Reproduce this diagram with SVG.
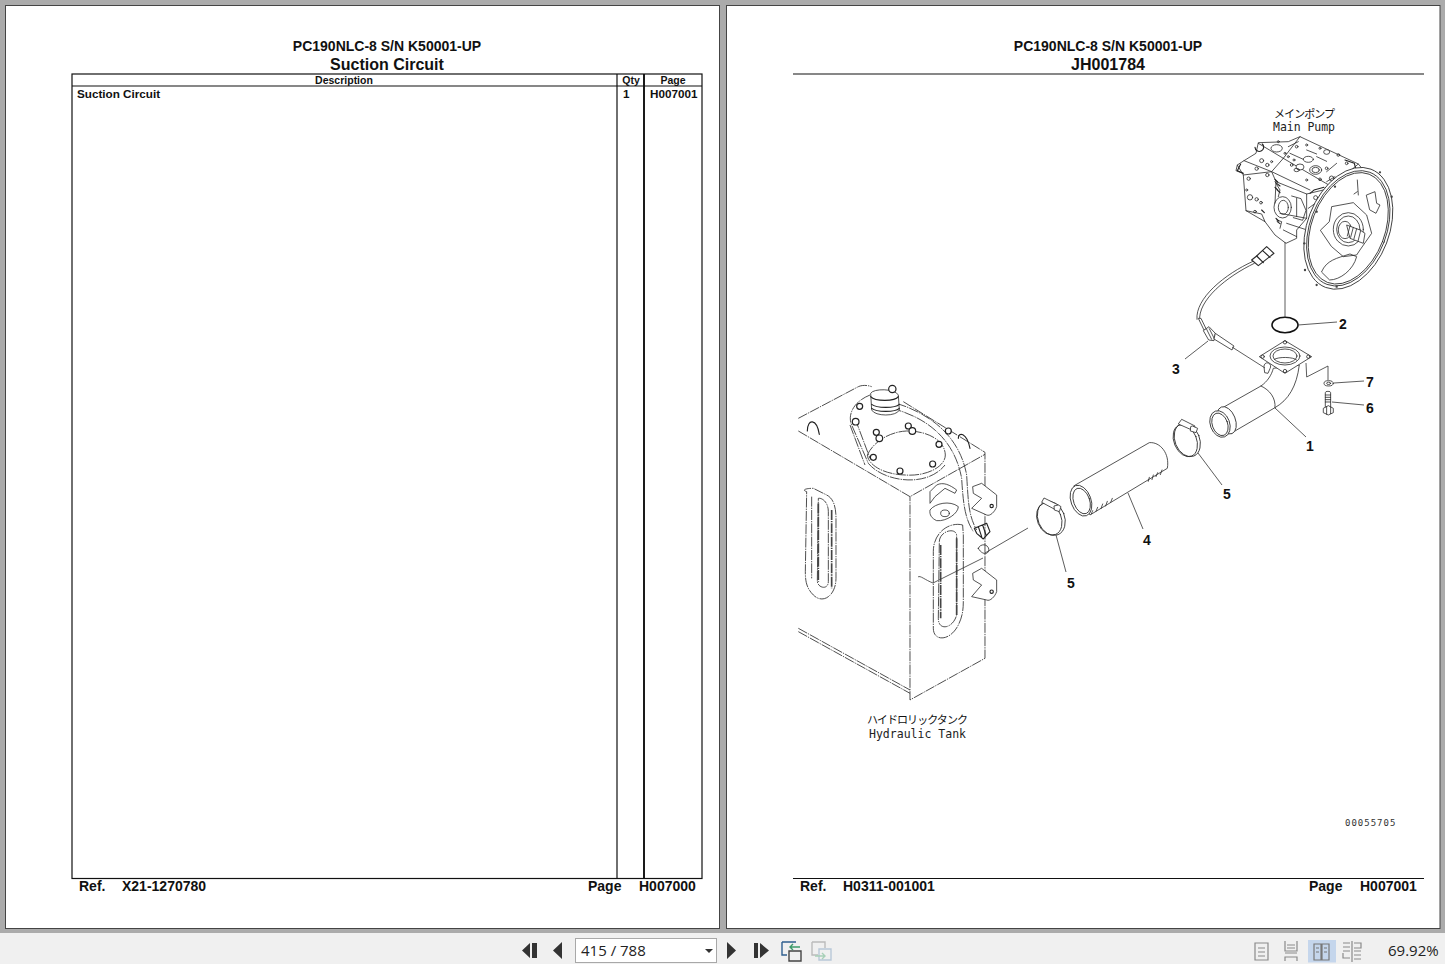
<svg xmlns="http://www.w3.org/2000/svg" width="1445" height="964" viewBox="0 0 1445 964">
<style>
text{font-family:"Liberation Sans",Arial,sans-serif;fill:#111}
.b{font-weight:bold}
.m{text-anchor:middle}
.n{font-weight:bold;font-size:14px;text-anchor:middle}
.r{font-family:"DejaVu Sans Mono","Noto Sans CJK JP",monospace;font-size:11.5px;fill:#222}
.j{font-family:"Noto Sans CJK JP",sans-serif;font-size:11px;fill:#111}
.u{font-family:"Open Sans","Noto Sans",sans-serif;font-size:15px;fill:#222}
.page{fill:#fff;stroke:#444;stroke-width:1}
.rule{stroke:#111;stroke-width:1.2;fill:none}
.l{fill:none;stroke:#2a2a2a;stroke-width:2.4;stroke-linejoin:round;stroke-linecap:round}
.h{fill:none;stroke:#222;stroke-width:3.4;stroke-linejoin:round;stroke-linecap:round}
.f{fill:#fff;stroke:#2a2a2a;stroke-width:2.4;stroke-linejoin:round}
.t{fill:none;stroke:#333;stroke-width:2.6;stroke-dasharray:30 3 4 3;stroke-linejoin:round}
.tb{fill:none;stroke:#444;stroke-width:5;stroke-dasharray:30 3 4 3}
.o{fill:#fff;stroke:#222;stroke-width:3.600}
.ic{fill:#333}
.v{fill:none;stroke:#8a8a8a;stroke-width:1.2}
</style>
<rect width="1445" height="964" fill="#ababab"/>
<g id="left-page">
<rect class="page" x="5.500" y="5.500" width="714" height="923"/>
<text class="b m" x="387" y="51" font-size="14">PC190NLC-8 S/N K50001-UP</text>
<text class="b m" x="387" y="70" font-size="16">Suction Circuit</text>
<g id="parts-table">
<rect class="rule" x="72" y="74" width="630" height="804.500"/>
<path class="rule" d="M72 86H702M617 74V878M644 74V878"/>
<path d="M644 74V878" stroke="#111" stroke-width="1.800"/>
<text class="b m" x="344" y="84" font-size="10.500">Description</text>
<text class="b m" x="631" y="84" font-size="10.500">Qty</text>
<text class="b m" x="673" y="84" font-size="10.500">Page</text>
<text class="b" x="77" y="98" font-size="11.700">Suction Circuit</text>
<text class="b" x="623" y="98" font-size="11.700">1</text>
<text class="b" x="650" y="98" font-size="11.700">H007001</text>
</g>
<text class="b" x="79" y="891" font-size="14">Ref.</text>
<text class="b" x="122" y="891" font-size="14">X21-1270780</text>
<text class="b" x="588" y="891" font-size="14">Page</text>
<text class="b" x="639" y="891" font-size="14">H007000</text>
</g>
<g id="right-page">
<rect class="page" x="726.500" y="5.500" width="713.500" height="923"/>
<text class="b m" x="1108" y="51" font-size="14">PC190NLC-8 S/N K50001-UP</text>
<text class="b m" x="1108" y="70" font-size="16">JH001784</text>
<path class="rule" d="M793 74H1424M793 878.500H1424"/>
<text class="b" x="800" y="891" font-size="14">Ref.</text>
<text class="b" x="843" y="891" font-size="14">H0311-001001</text>
<text class="b" x="1309" y="891" font-size="14">Page</text>
<text class="b" x="1360" y="891" font-size="14">H007001</text>
<text x="1345" y="826" font-size="9" style="font-family:'DejaVu Sans Mono',monospace;letter-spacing:1px;fill:#333">00055705</text>
</g>
<g id="main-pump" transform="translate(1150 90) scale(.3333)">
<path class="f" d="M262 225L282 212L318 190L325 158L415 155L450 140L625 222L640 240L520 300L470 312L470 385L440 420L440 445L408 460L375 435L345 395L288 362L280 255Z"/>
<path class="l" d="M400 205L450 140M400 205L545 290L625 222M325 160L400 205L365 245L282 212M365 245L480 300M280 255L365 245L378 275L375 340M288 362L335 372L345 395M262 225L258 242L278 250M378 275L470 312M390 370L470 385M410 400L465 418M400 420L440 440"/>
<path class="h" d="M315 172a13 13 0 1 0 22 -10M585 210l28 10l6 22M272 222l-10 20l18 8"/>
<ellipse class="f" cx="380" cy="175" rx="17" ry="11"/><ellipse class="f" cx="530" cy="186" rx="9" ry="7"/>
<ellipse class="l" cx="497" cy="240" rx="18" ry="13"/><ellipse class="l" cx="497" cy="240" rx="11" ry="8"/>
<ellipse class="l" cx="475" cy="208" rx="15" ry="9"/><ellipse class="f" cx="450" cy="231" rx="12" ry="9"/>
<ellipse class="l" cx="440" cy="240" rx="8" ry="5"/>
<ellipse class="l" cx="398" cy="352" rx="26" ry="32"/><ellipse class="l" cx="400" cy="352" rx="15" ry="21"/>
<path class="l" d="M425 318l28 8l15 35l-10 30l-28 -8M440 325v55M375 275l15 25l-5 20M380 390l15 5l-5 20"/>
<g class="l">
<circle cx="335" cy="212" r="6"/><circle cx="352" cy="225" r="5"/><circle cx="320" cy="236" r="5"/><circle cx="352" cy="255" r="5"/><circle cx="296" cy="266" r="5"/><circle cx="300" cy="322" r="8"/><circle cx="320" cy="328" r="5"/><circle cx="333" cy="338" r="4"/><circle cx="290" cy="300" r="3"/><circle cx="315" cy="365" r="4"/><circle cx="425" cy="225" r="4"/><circle cx="415" cy="200" r="3"/><circle cx="432" cy="210" r="3"/><circle cx="470" cy="165" r="3"/><circle cx="510" cy="175" r="3"/><circle cx="565" cy="195" r="4"/><circle cx="590" cy="220" r="4"/><circle cx="440" cy="170" r="4"/><circle cx="530" cy="235" r="4"/><circle cx="510" cy="268" r="4"/><circle cx="470" cy="270" r="3"/><circle cx="545" cy="265" r="7"/><circle cx="497" cy="323" r="6"/><circle cx="385" cy="155" r="3"/><circle cx="405" cy="190" r="3"/><circle cx="365" cy="215" r="3"/>
</g>
<path class="h" d="M375 268l8 8M380 280l10 8M375 292l8 8M382 300l8 8M378 385l8 8M382 395l8 6M335 360l8 8M492 300l30 -8M480 310l10 -8"/>
<path class="l" d="M415 170l30 -15M470 180l30 12M500 200l30 14M420 190l40 18M560 220l-30 25M520 300l-10 30l-35 25M530 275l25 -15"/>
<g transform="rotate(21 595 415)">
<ellipse class="f" cx="595" cy="415" rx="123" ry="190"/>
<ellipse class="l" cx="595" cy="415" rx="115" ry="180"/>
<ellipse class="l" cx="595" cy="415" rx="110" ry="174"/>
</g>
<path class="l" d="M512 420L538 395L545 350L610 338L650 375L665 430L630 480L620 495L580 500L545 470ZM515 545C530 510 560 505 600 492L620 500C610 540 570 570 540 570ZM622 270L625 315M612 312L622 305M650 315L675 305L680 340L690 345L678 370L660 360Z"/>
<ellipse class="l" cx="595" cy="418" rx="45" ry="50"/><ellipse class="l" cx="595" cy="418" rx="35" ry="40"/>
<ellipse class="f" cx="585" cy="420" rx="20" ry="26"/>
<path class="f" d="M590 405L630 420L645 430L640 460L600 445Z"/>
<path class="l" d="M600 408l-8 30M610 412l-8 30M620 416l-8 30M632 422l-8 32"/>
<g fill="#444"><circle cx="555" cy="290" r="3.500"/><circle cx="690" cy="247" r="3.500"/><circle cx="725" cy="320" r="3.500"/><circle cx="500" cy="365" r="3.500"/><circle cx="463" cy="460" r="3.500"/><circle cx="465" cy="540" r="3.500"/><circle cx="500" cy="585" r="3.500"/><circle cx="560" cy="590" r="3.500"/></g>
</g>
<g id="pump-label"><text class="j" x="1274" y="118" textLength="61">メインポンプ</text><text class="r" x="1273" y="131" textLength="62">Main Pump</text></g>
<g id="sensor" transform="translate(1030 300) scale(.3333)">
<path class="l" d="M669 -116C585 -78 495 -5 501 58M673 -110C590 -70 503 0 509 62"/>
<path class="f" d="M505 55L522 90L530 90L513 55Z"/>
<path class="f" d="M520 92L537 80L556 100L552 122L536 120Z"/>
<path class="l" d="M530 88l15 30M538 86l15 30"/>
<path class="f" d="M556 100L612 138L606 150L552 117Z"/>
</g>
<g id="sensor-connector" transform="translate(1150 90) scale(.3333)">
<path class="f" d="M305 510L320 498L350 470L372 490L325 527Z" style="stroke-width:3.400"/>
<path class="h" d="M338 482L360 502M320 498L340 518"/>
</g>
<g id="o-ring"><ellipse cx="1285" cy="325" rx="13" ry="7.700" fill="none" stroke="#111" stroke-width="1.600"/></g>
<g id="part-1-elbow" transform="translate(1030 300) scale(.3333)">
<path class="f" d="M808 195C800 260 775 300 735 323L603 400L580 322L693 258C712 245 725 225 730 205Z"/>
<path class="l" d="M693 258C720 270 738 295 735 323"/>
<path class="f" d="M702 200a10 11 0 1 1 18 6l-6 14l-10 -2Z"/>
<ellipse class="f" cx="590" cy="361" rx="26" ry="43" transform="rotate(-22 590 361)"/>
<ellipse class="f" cx="570" cy="372" rx="29" ry="41" transform="rotate(-20 570 372)"/>
<ellipse class="l" cx="570" cy="373" rx="23" ry="35" transform="rotate(-20 570 373)"/>
<path class="f" d="M765 122L845 170L765 220L688 170Z"/>
<ellipse class="l" cx="765" cy="168" rx="45" ry="27"/>
<ellipse class="l" cx="765" cy="168" rx="36" ry="21"/>
<path class="l" d="M733 178C745 170 790 170 800 180"/>
<circle class="l" cx="765" cy="127" r="5"/><circle class="l" cx="835" cy="170" r="5"/><circle class="l" cx="765" cy="213" r="5"/><circle class="l" cx="698" cy="170" r="5"/>
</g>
<g id="part-7-washer" transform="translate(1030 300) scale(.3333)"><ellipse class="l" cx="896" cy="250" rx="14" ry="8"/><ellipse class="l" cx="896" cy="250" rx="6" ry="3.500"/></g>
<g id="part-6-bolt" transform="translate(1030 300) scale(.3333)">
<path class="f" d="M886 278a8 4 0 0 1 16 0V325H886Z"/>
<path class="l" d="M886 285h16M886 292h16M886 299h16M886 306h16"/>
<path class="f" d="M880 325L895 317L910 325V338L895 345L880 338Z"/>
<path class="l" d="M890 320V343M902 321V341"/>
</g>
<g id="part-5-clamp-a" transform="translate(1030 300) scale(.3333)">
<ellipse class="l" cx="472" cy="420" rx="37" ry="52" transform="rotate(-22 472 420)"/>
<ellipse class="l" cx="466" cy="422" rx="34" ry="50" transform="rotate(-22 466 422)"/>
<path class="f" d="M445 372L455 358L495 378L490 392Z"/>
<path class="f" d="M482 380L487 378L503 385L498 398L481 393Z"/>
</g>
<g id="part-4-hose" transform="translate(1030 300) scale(.3333)">
<path class="f" d="M131 558L358 428C390 425 420 460 412 505L180 645Z"/>
<ellipse class="f" cx="153" cy="602" rx="30" ry="48" transform="rotate(-20 153 602)"/>
<ellipse class="l" cx="155" cy="603" rx="24" ry="40" transform="rotate(-20 155 603)"/>
<path class="l" d="M188 632l-4 10M203 622l-5 12M218 612l-5 14M232 604l-5 14M247 595l-5 12M358 532l-3 12M370 525l-4 14M383 518l-5 12M396 510l-5 14"/>
</g>
<g id="part-5-clamp-b" transform="translate(1030 300) scale(.3333)">
<ellipse class="l" cx="64" cy="655" rx="40" ry="53" transform="rotate(-22 64 655)"/>
<ellipse class="l" cx="58" cy="657" rx="36" ry="50" transform="rotate(-22 58 657)"/>
<path class="f" d="M35 607L42 594L85 615L78 630Z"/>
<path class="f" d="M72 618L85 615L93 620L88 635L73 630Z"/>
</g>
<g id="hydraulic-tank" transform="translate(790 375) scale(.3333)">
<path class="t" d="M25 130L205 35C215 30 232 30 245 35M340 80L585 232V850L360 975V365M25 168L360 365L585 238"/>
<path class="t" d="M25 760L360 945M25 770L360 955"/>
<path class="h" d="M52 168C52 130 80 130 88 178M505 190C505 170 530 172 540 220"/>
<path class="t" d="M240 60C190 80 172 120 185 150L235 265C280 320 410 340 465 270"/>
<path class="t" d="M232 240C250 200 300 170 350 168C420 168 465 200 466 240C466 275 410 305 345 300C280 298 235 270 232 240Z"/>
<path class="t" d="M195 130L240 250M180 150L225 270"/>
<path class="t" d="M320 85C430 120 510 190 530 300C535 380 535 420 560 465M305 100C420 130 495 200 515 310C520 390 525 430 550 470"/>
<path class="f" d="M242 55C250 40 315 40 325 60L328 105C320 125 255 125 245 105Z"/>
<path class="h" d="M242 65C255 80 315 80 325 65M245 88C260 100 315 100 328 88M245 100C260 112 315 112 328 100"/>
<circle class="o" cx="307" cy="42" r="11"/>
<g class="o"><circle cx="209" cy="94" r="9"/><circle cx="197" cy="140" r="10"/><circle cx="259" cy="172" r="9"/><circle cx="268" cy="190" r="10"/><circle cx="355" cy="153" r="9"/><circle cx="367" cy="168" r="10"/><circle cx="475" cy="168" r="9"/><circle cx="447" cy="208" r="9"/><circle cx="428" cy="267" r="9"/><circle cx="330" cy="288" r="9"/><circle cx="250" cy="247" r="9"/></g>
<path class="t" d="M50 350C35 345 46 340 70 340L110 360C130 370 138 395 138 430V610C138 660 100 690 70 660C50 640 46 620 46 590ZM65 365V610"/>
<path class="t" d="M85 370C95 368 115 380 115 410V620C115 645 85 640 82 620Z"/>
<path class="tb" d="M85 385V620M125 405V640"/>
<path class="t" d="M518 450C480 440 430 470 430 530V760C430 800 480 800 505 750C515 730 520 710 520 680V480Z"/>
<path class="t" d="M448 500C448 470 495 455 500 480V720C490 760 445 770 445 730Z"/>
<path class="tb" d="M452 510V730M500 490V720"/>
<path class="f" d="M420 350L440 330C460 320 480 330 500 345L495 355L465 340L435 365L420 385Z"/>
<path class="f" d="M420 405C435 385 480 375 505 395C505 415 470 440 440 437C425 430 418 420 420 405Z"/>
<ellipse class="l" cx="465" cy="415" rx="13" ry="10"/>
<path class="f" d="M548 335L575 325L620 360V395C615 410 600 425 590 420L545 400L575 370L550 355Z"/>
<circle class="h" cx="605" cy="393" r="5"/>
<path class="f" d="M548 595L575 580L620 615V650C615 665 600 680 590 675L545 665L575 630L550 615Z"/>
<circle class="h" cx="605" cy="650" r="5"/>
<path class="h" d="M553 460L590 445L600 470L580 492L560 475ZM565 455l10 30M578 450l10 30"/>
<path class="l" d="M565 520C570 505 595 505 597 525C595 540 575 540 565 520Z"/>
</g>
<g id="tank-label"><text class="j" x="867" y="724" textLength="101">ハイドロリックタンク</text><text class="r" x="869" y="738" textLength="97">Hydraulic Tank</text></g>
<g id="connectors">
<g fill="none" stroke="#333" stroke-width=".800">
<path d="M1285 242V318"/>
<path d="M1298 325L1337 322"/>
<path d="M1185 359L1208 341"/>
<path d="M1232 347L1265 368"/>
<path d="M1306 363L1306.700 377L1328 366V380"/>
<path d="M1334 383L1364 381"/>
<path d="M1332 402L1364 405"/>
<path d="M1275 408L1306 437"/>
<path d="M1198 453L1222 485"/>
<path d="M1128 493L1143 529"/>
<path d="M1056 535L1066 572"/>
<path d="M1028 528L985 553M983 558L933 583C925 580 920 575 918 577"/>
</g>
</g>
<g id="callouts">
<text class="n" x="1310" y="451">1</text><text class="n" x="1343" y="329">2</text><text class="n" x="1176" y="374">3</text><text class="n" x="1147" y="545">4</text><text class="n" x="1227" y="499">5</text><text class="n" x="1071" y="588">5</text><text class="n" x="1370" y="413">6</text><text class="n" x="1370" y="387">7</text>
</g>
<g id="viewer-toolbar">
<rect y="933" width="1445" height="31" fill="#f0f0f0"/>
<rect x="575.500" y="938.500" width="141" height="24" fill="#fff" stroke="#a8a8a8"/>
<text class="u" x="581" y="956">415 / 788</text>
<path class="ic" d="M705 949h8l-4 4ZM522 950.500L530 943V958ZM532 943h5V958h-5ZM553 950.500L562 942V959ZM727 942L736 950.500L727 959ZM754 943h4V958h-4ZM760 943L769 950.500L760 958Z"/>
<g fill="none" stroke-width="1.400">
<path d="M782 942H796M782 942V955H787" stroke="#2f5f8f"/>
<path d="M789 951H801V961H789Z" stroke="#444"/>
<path d="M790 947H800M793 944L790 947L793 950" stroke="#3c9a6a"/>
<path d="M812 942H825V948M812 942V955H818" stroke="#bbb"/>
<path d="M819 949H831V960H819Z" stroke="#b8c8d8"/>
<path d="M815 956H825M822 953L825 956L822 959" stroke="#a8d0b8"/>
</g>
<rect x="1308" y="940" width="28" height="22.500" fill="#c5d6ec"/>
<g class="v">
<path d="M1255 943H1268V960H1255ZM1258 948H1265M1258 952H1265M1258 956H1265"/>
<path d="M1285 941V951H1297V941M1285 953H1297M1287 945H1295M1287 948H1295M1285 961V957H1297V961"/>
<path d="M1314 944H1321V960H1314ZM1322 944H1329V960H1322ZM1316 948H1319M1316 952H1319M1324 948H1327M1324 952H1327" stroke="#777"/>
<path d="M1352 941V962M1343 943H1350M1343 947H1350M1343 951H1350M1354 951H1361M1354 955H1361M1354 959H1361M1343 953V958H1350M1354 943H1361V948H1354"/>
</g>
<text class="u" x="1388" y="956">69.92%</text>
</g>
</svg>
